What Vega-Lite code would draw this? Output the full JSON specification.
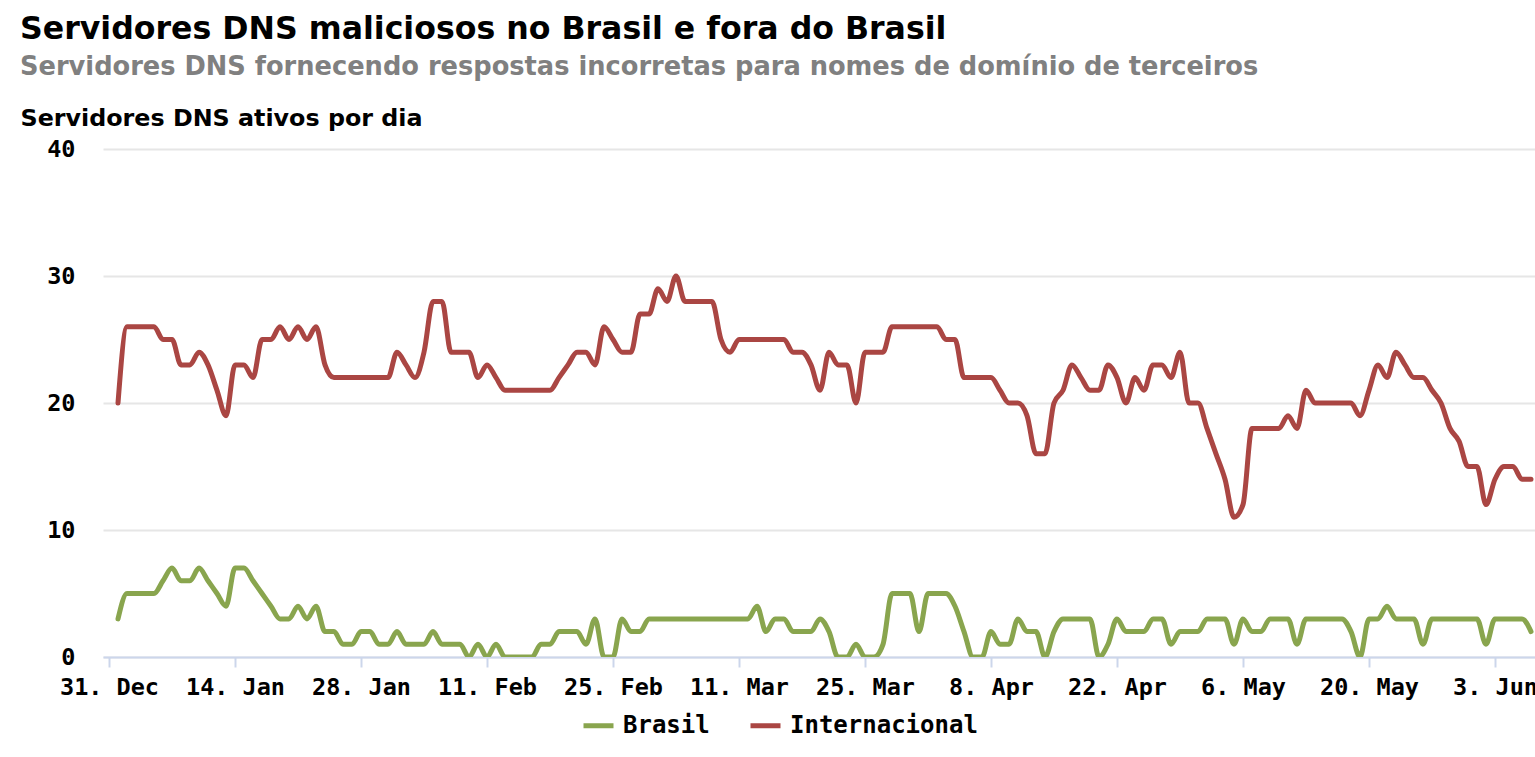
{
  "$schema": "https://vega.github.io/schema/vega-lite/v6.json",
  "autosize": "none",
  "width": 1432,
  "height": 508,
  "padding": {"left": 103, "top": 149, "right": 0, "bottom": 100},
  "background": "white",
  "title": {
    "text": "Servidores DNS maliciosos no Brasil e fora do Brasil",
    "subtitle": "Servidores DNS fornecendo respostas incorretas para nomes de domínio de terceiros",
    "anchor": "start",
    "frame": "group",
    "dx": -83,
    "offset": 26,
    "font": "DejaVu Sans",
    "fontSize": 31.6,
    "fontWeight": "bold",
    "color": "#000000",
    "subtitleFont": "DejaVu Sans",
    "subtitleFontSize": 25.7,
    "subtitleFontWeight": "bold",
    "subtitleColor": "#808080",
    "subtitlePadding": 10
  },
  "data": {
    "values": [
      {"d":"2019-01-01","Brasil":3,"Internacional":20},
      {"d":"2019-01-02","Brasil":5,"Internacional":26},
      {"d":"2019-01-03","Brasil":5,"Internacional":26},
      {"d":"2019-01-04","Brasil":5,"Internacional":26},
      {"d":"2019-01-05","Brasil":5,"Internacional":26},
      {"d":"2019-01-06","Brasil":6,"Internacional":25},
      {"d":"2019-01-07","Brasil":7,"Internacional":25},
      {"d":"2019-01-08","Brasil":6,"Internacional":23},
      {"d":"2019-01-09","Brasil":6,"Internacional":23},
      {"d":"2019-01-10","Brasil":7,"Internacional":24},
      {"d":"2019-01-11","Brasil":6,"Internacional":23},
      {"d":"2019-01-12","Brasil":5,"Internacional":21},
      {"d":"2019-01-13","Brasil":4,"Internacional":19},
      {"d":"2019-01-14","Brasil":7,"Internacional":23},
      {"d":"2019-01-15","Brasil":7,"Internacional":23},
      {"d":"2019-01-16","Brasil":6,"Internacional":22},
      {"d":"2019-01-17","Brasil":5,"Internacional":25},
      {"d":"2019-01-18","Brasil":4,"Internacional":25},
      {"d":"2019-01-19","Brasil":3,"Internacional":26},
      {"d":"2019-01-20","Brasil":3,"Internacional":25},
      {"d":"2019-01-21","Brasil":4,"Internacional":26},
      {"d":"2019-01-22","Brasil":3,"Internacional":25},
      {"d":"2019-01-23","Brasil":4,"Internacional":26},
      {"d":"2019-01-24","Brasil":2,"Internacional":23},
      {"d":"2019-01-25","Brasil":2,"Internacional":22},
      {"d":"2019-01-26","Brasil":1,"Internacional":22},
      {"d":"2019-01-27","Brasil":1,"Internacional":22},
      {"d":"2019-01-28","Brasil":2,"Internacional":22},
      {"d":"2019-01-29","Brasil":2,"Internacional":22},
      {"d":"2019-01-30","Brasil":1,"Internacional":22},
      {"d":"2019-01-31","Brasil":1,"Internacional":22},
      {"d":"2019-02-01","Brasil":2,"Internacional":24},
      {"d":"2019-02-02","Brasil":1,"Internacional":23},
      {"d":"2019-02-03","Brasil":1,"Internacional":22},
      {"d":"2019-02-04","Brasil":1,"Internacional":24},
      {"d":"2019-02-05","Brasil":2,"Internacional":28},
      {"d":"2019-02-06","Brasil":1,"Internacional":28},
      {"d":"2019-02-07","Brasil":1,"Internacional":24},
      {"d":"2019-02-08","Brasil":1,"Internacional":24},
      {"d":"2019-02-09","Brasil":0,"Internacional":24},
      {"d":"2019-02-10","Brasil":1,"Internacional":22},
      {"d":"2019-02-11","Brasil":0,"Internacional":23},
      {"d":"2019-02-12","Brasil":1,"Internacional":22},
      {"d":"2019-02-13","Brasil":0,"Internacional":21},
      {"d":"2019-02-14","Brasil":0,"Internacional":21},
      {"d":"2019-02-15","Brasil":0,"Internacional":21},
      {"d":"2019-02-16","Brasil":0,"Internacional":21},
      {"d":"2019-02-17","Brasil":1,"Internacional":21},
      {"d":"2019-02-18","Brasil":1,"Internacional":21},
      {"d":"2019-02-19","Brasil":2,"Internacional":22},
      {"d":"2019-02-20","Brasil":2,"Internacional":23},
      {"d":"2019-02-21","Brasil":2,"Internacional":24},
      {"d":"2019-02-22","Brasil":1,"Internacional":24},
      {"d":"2019-02-23","Brasil":3,"Internacional":23},
      {"d":"2019-02-24","Brasil":0,"Internacional":26},
      {"d":"2019-02-25","Brasil":0,"Internacional":25},
      {"d":"2019-02-26","Brasil":3,"Internacional":24},
      {"d":"2019-02-27","Brasil":2,"Internacional":24},
      {"d":"2019-02-28","Brasil":2,"Internacional":27},
      {"d":"2019-03-01","Brasil":3,"Internacional":27},
      {"d":"2019-03-02","Brasil":3,"Internacional":29},
      {"d":"2019-03-03","Brasil":3,"Internacional":28},
      {"d":"2019-03-04","Brasil":3,"Internacional":30},
      {"d":"2019-03-05","Brasil":3,"Internacional":28},
      {"d":"2019-03-06","Brasil":3,"Internacional":28},
      {"d":"2019-03-07","Brasil":3,"Internacional":28},
      {"d":"2019-03-08","Brasil":3,"Internacional":28},
      {"d":"2019-03-09","Brasil":3,"Internacional":25},
      {"d":"2019-03-10","Brasil":3,"Internacional":24},
      {"d":"2019-03-11","Brasil":3,"Internacional":25},
      {"d":"2019-03-12","Brasil":3,"Internacional":25},
      {"d":"2019-03-13","Brasil":4,"Internacional":25},
      {"d":"2019-03-14","Brasil":2,"Internacional":25},
      {"d":"2019-03-15","Brasil":3,"Internacional":25},
      {"d":"2019-03-16","Brasil":3,"Internacional":25},
      {"d":"2019-03-17","Brasil":2,"Internacional":24},
      {"d":"2019-03-18","Brasil":2,"Internacional":24},
      {"d":"2019-03-19","Brasil":2,"Internacional":23},
      {"d":"2019-03-20","Brasil":3,"Internacional":21},
      {"d":"2019-03-21","Brasil":2,"Internacional":24},
      {"d":"2019-03-22","Brasil":0,"Internacional":23},
      {"d":"2019-03-23","Brasil":0,"Internacional":23},
      {"d":"2019-03-24","Brasil":1,"Internacional":20},
      {"d":"2019-03-25","Brasil":0,"Internacional":24},
      {"d":"2019-03-26","Brasil":0,"Internacional":24},
      {"d":"2019-03-27","Brasil":1,"Internacional":24},
      {"d":"2019-03-28","Brasil":5,"Internacional":26},
      {"d":"2019-03-29","Brasil":5,"Internacional":26},
      {"d":"2019-03-30","Brasil":5,"Internacional":26},
      {"d":"2019-03-31","Brasil":2,"Internacional":26},
      {"d":"2019-04-01","Brasil":5,"Internacional":26},
      {"d":"2019-04-02","Brasil":5,"Internacional":26},
      {"d":"2019-04-03","Brasil":5,"Internacional":25},
      {"d":"2019-04-04","Brasil":4,"Internacional":25},
      {"d":"2019-04-05","Brasil":2,"Internacional":22},
      {"d":"2019-04-06","Brasil":0,"Internacional":22},
      {"d":"2019-04-07","Brasil":0,"Internacional":22},
      {"d":"2019-04-08","Brasil":2,"Internacional":22},
      {"d":"2019-04-09","Brasil":1,"Internacional":21},
      {"d":"2019-04-10","Brasil":1,"Internacional":20},
      {"d":"2019-04-11","Brasil":3,"Internacional":20},
      {"d":"2019-04-12","Brasil":2,"Internacional":19},
      {"d":"2019-04-13","Brasil":2,"Internacional":16},
      {"d":"2019-04-14","Brasil":0,"Internacional":16},
      {"d":"2019-04-15","Brasil":2,"Internacional":20},
      {"d":"2019-04-16","Brasil":3,"Internacional":21},
      {"d":"2019-04-17","Brasil":3,"Internacional":23},
      {"d":"2019-04-18","Brasil":3,"Internacional":22},
      {"d":"2019-04-19","Brasil":3,"Internacional":21},
      {"d":"2019-04-20","Brasil":0,"Internacional":21},
      {"d":"2019-04-21","Brasil":1,"Internacional":23},
      {"d":"2019-04-22","Brasil":3,"Internacional":22},
      {"d":"2019-04-23","Brasil":2,"Internacional":20},
      {"d":"2019-04-24","Brasil":2,"Internacional":22},
      {"d":"2019-04-25","Brasil":2,"Internacional":21},
      {"d":"2019-04-26","Brasil":3,"Internacional":23},
      {"d":"2019-04-27","Brasil":3,"Internacional":23},
      {"d":"2019-04-28","Brasil":1,"Internacional":22},
      {"d":"2019-04-29","Brasil":2,"Internacional":24},
      {"d":"2019-04-30","Brasil":2,"Internacional":20},
      {"d":"2019-05-01","Brasil":2,"Internacional":20},
      {"d":"2019-05-02","Brasil":3,"Internacional":18},
      {"d":"2019-05-03","Brasil":3,"Internacional":16},
      {"d":"2019-05-04","Brasil":3,"Internacional":14},
      {"d":"2019-05-05","Brasil":1,"Internacional":11},
      {"d":"2019-05-06","Brasil":3,"Internacional":12},
      {"d":"2019-05-07","Brasil":2,"Internacional":18},
      {"d":"2019-05-08","Brasil":2,"Internacional":18},
      {"d":"2019-05-09","Brasil":3,"Internacional":18},
      {"d":"2019-05-10","Brasil":3,"Internacional":18},
      {"d":"2019-05-11","Brasil":3,"Internacional":19},
      {"d":"2019-05-12","Brasil":1,"Internacional":18},
      {"d":"2019-05-13","Brasil":3,"Internacional":21},
      {"d":"2019-05-14","Brasil":3,"Internacional":20},
      {"d":"2019-05-15","Brasil":3,"Internacional":20},
      {"d":"2019-05-16","Brasil":3,"Internacional":20},
      {"d":"2019-05-17","Brasil":3,"Internacional":20},
      {"d":"2019-05-18","Brasil":2,"Internacional":20},
      {"d":"2019-05-19","Brasil":0,"Internacional":19},
      {"d":"2019-05-20","Brasil":3,"Internacional":21},
      {"d":"2019-05-21","Brasil":3,"Internacional":23},
      {"d":"2019-05-22","Brasil":4,"Internacional":22},
      {"d":"2019-05-23","Brasil":3,"Internacional":24},
      {"d":"2019-05-24","Brasil":3,"Internacional":23},
      {"d":"2019-05-25","Brasil":3,"Internacional":22},
      {"d":"2019-05-26","Brasil":1,"Internacional":22},
      {"d":"2019-05-27","Brasil":3,"Internacional":21},
      {"d":"2019-05-28","Brasil":3,"Internacional":20},
      {"d":"2019-05-29","Brasil":3,"Internacional":18},
      {"d":"2019-05-30","Brasil":3,"Internacional":17},
      {"d":"2019-05-31","Brasil":3,"Internacional":15},
      {"d":"2019-06-01","Brasil":3,"Internacional":15},
      {"d":"2019-06-02","Brasil":1,"Internacional":12},
      {"d":"2019-06-03","Brasil":3,"Internacional":14},
      {"d":"2019-06-04","Brasil":3,"Internacional":15},
      {"d":"2019-06-05","Brasil":3,"Internacional":15},
      {"d":"2019-06-06","Brasil":3,"Internacional":14},
      {"d":"2019-06-07","Brasil":2,"Internacional":14}
    ]
  },
  "transform": [
    {"fold": ["Brasil", "Internacional"], "as": ["serie", "valor"]}
  ],
  "mark": {
    "type": "line",
    "strokeWidth": 5,
    "interpolate": "monotone",
    "strokeCap": "round",
    "strokeJoin": "round",
    "clip": true
  },
  "encoding": {
    "x": {
      "field": "d",
      "type": "temporal",
      "scale": {
        "type": "utc",
        "domain": [
          {"year": 2018, "month": 12, "date": 30, "hours": 8, "utc": true},
          {"year": 2019, "month": 6, "date": 7, "hours": 10, "minutes": 40, "utc": true}
        ]
      },
      "axis": {
        "values": [
          {"year": 2018, "month": 12, "date": 31, "utc": true},
          {"year": 2019, "month": 1, "date": 14, "utc": true},
          {"year": 2019, "month": 1, "date": 28, "utc": true},
          {"year": 2019, "month": 2, "date": 11, "utc": true},
          {"year": 2019, "month": 2, "date": 25, "utc": true},
          {"year": 2019, "month": 3, "date": 11, "utc": true},
          {"year": 2019, "month": 3, "date": 25, "utc": true},
          {"year": 2019, "month": 4, "date": 8, "utc": true},
          {"year": 2019, "month": 4, "date": 22, "utc": true},
          {"year": 2019, "month": 5, "date": 6, "utc": true},
          {"year": 2019, "month": 5, "date": 20, "utc": true},
          {"year": 2019, "month": 6, "date": 3, "utc": true}
        ],
        "labelExpr": "utcFormat(datum.value, '%-d. %b')",
        "title": null,
        "grid": false,
        "domainColor": "#ccd6eb",
        "domainWidth": 2,
        "tickColor": "#ccd6eb",
        "tickWidth": 2,
        "tickSize": 10,
        "labelPadding": 8,
        "labelAngle": 0,
        "labelOverlap": false,
        "labelFlush": false,
        "labelBound": false
      }
    },
    "y": {
      "field": "valor",
      "type": "quantitative",
      "scale": {"domain": [0, 40], "nice": false},
      "axis": {
        "values": [0, 10, 20, 30, 40],
        "grid": true,
        "gridColor": "#e6e6e6",
        "gridWidth": 2,
        "domain": false,
        "ticks": false,
        "labelPadding": 28,
        "labelBaseline": "middle",
        "title": "Servidores DNS ativos por dia",
        "titleAngle": 0,
        "titleAlign": "left",
        "titleBaseline": "middle",
        "titleX": -83,
        "titleY": -31,
        "titleFont": "DejaVu Sans",
        "titleFontSize": 23.8,
        "titleFontWeight": "bold",
        "titleColor": "#000000"
      }
    },
    "color": {
      "field": "serie",
      "type": "nominal",
      "scale": {"domain": ["Brasil", "Internacional"], "range": ["#89A54E", "#AA4643"]},
      "legend": {
        "title": null,
        "orient": "none",
        "direction": "horizontal",
        "legendX": 478,
        "legendY": 559,
        "padding": 0,
        "symbolType": "stroke",
        "symbolStrokeWidth": 5,
        "symbolSize": 900,
        "labelOffset": 7,
        "columnPadding": 30,
        "labelLimit": 400,
        "labelFont": "DejaVu Sans Mono",
        "labelFontSize": 24,
        "labelFontWeight": "bold",
        "labelColor": "#000000"
      }
    }
  },
  "config": {
    "view": {"stroke": null},
    "axis": {
      "labelFont": "DejaVu Sans Mono",
      "labelFontSize": 23.5,
      "labelFontWeight": "bold",
      "labelColor": "#000000"
    }
  }
}
